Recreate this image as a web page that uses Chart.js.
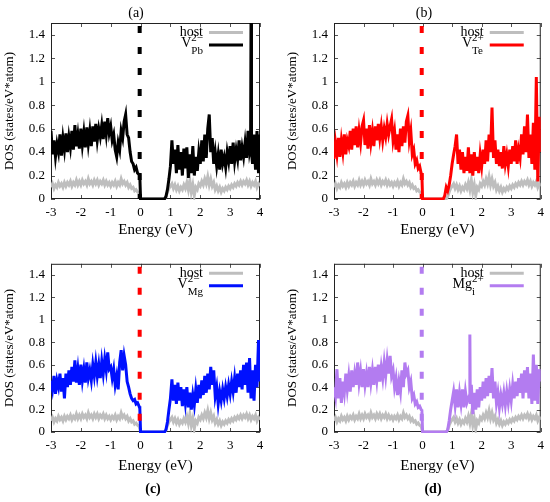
<!DOCTYPE html>
<html>
<head>
<meta charset="utf-8">
<script src="https://cdn.jsdelivr.net/npm/chart.js@4.4.1/dist/chart.umd.min.js"></script>
<style>
  html, body { margin: 0; padding: 0; background: #fff; }
  #wrap { position: relative; width: 550px; height: 502px; }
  canvas { position: absolute; }
</style>
</head>
<body>
<div id="wrap">
  <canvas id="pa" width="275" height="250" style="left:0;top:0"></canvas>
  <canvas id="pb" width="275" height="250" style="left:275px;top:0"></canvas>
  <canvas id="pc" width="275" height="252" style="left:0;top:250px"></canvas>
  <canvas id="pd" width="275" height="252" style="left:275px;top:250px"></canvas>
</div>
<script>
// energy grid: -3 .. 4 eV, 0.05 eV per sample (141 samples)
const E_START = -3;
const E_STEP = 0.05;
const xTicks = [-3, -2, -1, 0, 1, 2, 3, 4];
const yTicks = [0, 0.2, 0.4, 0.6, 0.8, 1, 1.2, 1.4];
const fermiLevel = -0.03;

// pristine host DOS (same curve in every panel)
const dosHost = [
  0.10, 0.13, 0.09, 0.12, 0.10, 0.14, 0.11, 0.13, 0.10, 0.14,   // -3.00
  0.11, 0.14, 0.12, 0.15, 0.11, 0.14, 0.12, 0.16, 0.12, 0.15,   // -2.50
  0.12, 0.16, 0.13, 0.15, 0.12, 0.17, 0.13, 0.15, 0.12, 0.16,   // -2.00
  0.13, 0.16, 0.12, 0.15, 0.13, 0.16, 0.12, 0.15, 0.12, 0.14,   // -1.50
  0.11, 0.14, 0.12, 0.15, 0.11, 0.14, 0.12, 0.17, 0.13, 0.15,   // -1.00
  0.12, 0.14, 0.10, 0.12, 0.09, 0.10, 0.07, 0.08, 0.06, 0.05,   // -0.50
  0, 0, 0, 0, 0, 0, 0, 0, 0, 0,                                 //  0.00
  0, 0, 0, 0, 0, 0, 0, 0.02, 0.06, 0.09,                        //  0.50
  0.11, 0.13, 0.09, 0.12, 0.08, 0.11, 0.07, 0.10, 0.08, 0.12,   //  1.00
  0.09, 0.14, 0.08, 0.16, 0.06, 0.12, 0.03, 0.10, 0.08, 0.13,   //  1.50
  0.11, 0.15, 0.12, 0.17, 0.13, 0.19, 0.12, 0.17, 0.11, 0.14,   //  2.00
  0.08, 0.11, 0.07, 0.10, 0.06, 0.09, 0.07, 0.10, 0.08, 0.11,   //  2.50
  0.09, 0.12, 0.10, 0.13, 0.11, 0.14, 0.12, 0.15, 0.12, 0.15,   //  3.00
  0.13, 0.16, 0.12, 0.15, 0.11, 0.14, 0.12, 0.15, 0.10, 0.13,   //  3.50
  0.11                                                          //  4.00
];

// (a) V_Pb 2-
const dosVPb = [
  0.58, 0.38, 0.50, 0.36, 0.47, 0.40, 0.55, 0.37, 0.52, 0.42,
  0.56, 0.40, 0.53, 0.44, 0.58, 0.42, 0.63, 0.45, 0.55, 0.43,
  0.60, 0.46, 0.57, 0.44, 0.61, 0.47, 0.58, 0.45, 0.62, 0.49,
  0.64, 0.50, 0.60, 0.53, 0.63, 0.51, 0.66, 0.55, 0.69, 0.56,
  0.62, 0.50, 0.55, 0.42, 0.36, 0.48, 0.42, 0.58, 0.52, 0.66,
  0.72, 0.55, 0.52, 0.40, 0.32, 0.30, 0.25, 0.27, 0.22, 0.21,
  0, 0, 0, 0, 0, 0, 0, 0, 0, 0,
  0, 0, 0, 0, 0, 0, 0, 0.02, 0.08, 0.17,
  0.28, 0.50, 0.30, 0.42, 0.22, 0.46, 0.25, 0.40, 0.20, 0.43,
  0.26, 0.44, 0.18, 0.38, 0.22, 0.45, 0.20, 0.36, 0.24, 0.40,
  0.30, 0.50, 0.32, 0.55, 0.35, 0.60, 0.72, 0.40, 0.52, 0.30,
  0.40, 0.28, 0.38, 0.25, 0.42, 0.30, 0.36, 0.27, 0.40, 0.32,
  0.45, 0.30, 0.48, 0.32, 0.42, 0.34, 0.50, 0.33, 0.44, 0.36,
  0.48, 0.35, 0.58, 0.40, 1.60, 0.30, 0.55, 0.25, 0.58, 0.22,
  0.55
];
const extraVPb = [[-0.025, 0.19], [3.685, 0.45], [3.715, 0.40]];

// (b) V_Te 2+
const dosVTe = [
  0.34, 0.48, 0.38, 0.52, 0.36, 0.50, 0.40, 0.55, 0.38, 0.50,
  0.45, 0.58, 0.42, 0.60, 0.46, 0.62, 0.44, 0.58, 0.48, 0.62,
  0.67, 0.46, 0.60, 0.43, 0.63, 0.48, 0.58, 0.45, 0.62, 0.50,
  0.64, 0.52, 0.62, 0.50, 0.60, 0.53, 0.64, 0.55, 0.62, 0.68,
  0.50, 0.58, 0.42, 0.55, 0.40, 0.60, 0.45, 0.62, 0.48, 0.66,
  0.71, 0.50, 0.58, 0.38, 0.42, 0.30, 0.33, 0.26, 0.28, 0.22,
  0, 0, 0, 0, 0, 0, 0, 0, 0, 0,
  0, 0, 0, 0, 0, 0.03, 0.10, 0.07, 0.12, 0.20,
  0.30, 0.38, 0.45, 0.55, 0.30, 0.42, 0.25, 0.40, 0.22, 0.36,
  0.24, 0.44, 0.22, 0.38, 0.20, 0.40, 0.24, 0.36, 0.22, 0.38,
  0.28, 0.42, 0.30, 0.50, 0.32, 0.55, 0.40, 0.78, 0.35, 0.50,
  0.30, 0.42, 0.28, 0.40, 0.26, 0.45, 0.30, 0.38, 0.28, 0.42,
  0.30, 0.45, 0.32, 0.50, 0.30, 0.42, 0.35, 0.55, 0.38, 0.62,
  0.40, 0.72, 0.35, 0.55, 0.30, 0.65, 0.25, 1.04, 0.15, 0.70,
  0.40
];
const extraVTe = [[-0.025, 0.21]];

// (c) V_Mg 2-
const dosVMg = [
  0.46, 0.38, 0.50, 0.34, 0.46, 0.40, 0.52, 0.36, 0.48, 0.30,
  0.52, 0.40, 0.55, 0.42, 0.58, 0.45, 0.64, 0.44, 0.56, 0.42,
  0.60, 0.46, 0.56, 0.44, 0.62, 0.48, 0.55, 0.46, 0.60, 0.50,
  0.62, 0.50, 0.60, 0.48, 0.63, 0.52, 0.65, 0.55, 0.71, 0.56,
  0.58, 0.48, 0.56, 0.42, 0.50, 0.38, 0.62, 0.73, 0.55, 0.68,
  0.60, 0.45, 0.40, 0.34, 0.30, 0.28, 0.29, 0.25, 0.26, 0.23,
  0, 0, 0, 0, 0, 0, 0, 0, 0, 0,
  0, 0, 0, 0, 0, 0, 0, 0.02, 0.09, 0.20,
  0.30, 0.47, 0.28, 0.42, 0.25, 0.44, 0.28, 0.40, 0.23, 0.38,
  0.26, 0.40, 0.22, 0.35, 0.20, 0.33, 0.24, 0.38, 0.26, 0.42,
  0.30, 0.46, 0.33, 0.50, 0.35, 0.52, 0.38, 0.58, 0.42, 0.55,
  0.32, 0.40, 0.25, 0.36, 0.28, 0.38, 0.30, 0.40, 0.32, 0.42,
  0.34, 0.45, 0.36, 0.48, 0.35, 0.52, 0.40, 0.55, 0.38, 0.60,
  0.42, 0.62, 0.35, 0.66, 0.30, 0.55, 0.28, 0.60, 0.40, 0.82,
  0.45
];
const extraVMg = [[-0.025, 0.21]];

// (d) Mg_i 2+
const dosMgi = [
  0.40, 0.32, 0.56, 0.30, 0.48, 0.26, 0.45, 0.35, 0.52, 0.38,
  0.50, 0.36, 0.55, 0.40, 0.52, 0.42, 0.62, 0.44, 0.54, 0.40,
  0.56, 0.42, 0.52, 0.40, 0.58, 0.44, 0.55, 0.42, 0.58, 0.46,
  0.60, 0.45, 0.58, 0.48, 0.62, 0.50, 0.64, 0.52, 0.68, 0.50,
  0.55, 0.40, 0.48, 0.33, 0.45, 0.36, 0.55, 0.40, 0.62, 0.52,
  0.55, 0.40, 0.45, 0.30, 0.33, 0.25, 0.27, 0.22, 0.23, 0.20,
  0, 0, 0, 0, 0, 0, 0, 0, 0, 0,
  0, 0, 0, 0, 0, 0, 0, 0.02, 0.10, 0.20,
  0.28, 0.36, 0.24, 0.38, 0.22, 0.35, 0.25, 0.38, 0.22, 0.36,
  0.26, 0.30, 0.87, 0.42, 0.16, 0.35, 0.20, 0.38, 0.22, 0.40,
  0.28, 0.45, 0.30, 0.48, 0.32, 0.50, 0.35, 0.57, 0.30, 0.45,
  0.26, 0.35, 0.22, 0.33, 0.25, 0.35, 0.24, 0.36, 0.26, 0.38,
  0.28, 0.42, 0.30, 0.45, 0.32, 0.48, 0.35, 0.52, 0.30, 0.55,
  0.35, 0.58, 0.30, 0.52, 0.25, 0.69, 0.28, 0.60, 0.25, 0.56,
  0.45
];
const extraMgi = [[-0.025, 0.19], [1.585, 0.28], [1.615, 0.25]];

const HOST_COLOR = '#bebebe';
const SERIF = '"Liberation Serif", "DejaVu Serif", serif';
Chart.defaults.font.family = SERIF;
Chart.defaults.color = '#000';

function toPoints(values, extra) {
  const pts = values.map((v, i) => ({ x: +(E_START + i * E_STEP).toFixed(3), y: v }));
  extra.forEach(([x, y]) => pts.push({ x, y }));
  return pts.sort((p, q) => p.x - q.x);
}

// gnuplot style box with inward ticks
const framePlugin = {
  id: 'frame',
  beforeDatasetsDraw(chart) {
    const { ctx, chartArea: a, scales: { x, y } } = chart;
    ctx.save();
    ctx.strokeStyle = '#555';
    ctx.lineWidth = 1;
    ctx.beginPath();
    x.ticks.forEach(t => {
      const px = Math.round(x.getPixelForValue(t.value)) + 0.5;
      ctx.moveTo(px, a.bottom); ctx.lineTo(px, a.bottom - 4);
      ctx.moveTo(px, a.top); ctx.lineTo(px, a.top + 4);
    });
    y.ticks.forEach(t => {
      const py = Math.round(y.getPixelForValue(t.value)) + 0.5;
      ctx.moveTo(a.left, py); ctx.lineTo(a.left + 4, py);
      ctx.moveTo(a.right, py); ctx.lineTo(a.right - 4, py);
    });
    ctx.stroke();
    ctx.strokeStyle = '#222';
    ctx.strokeRect(a.left + 0.5, a.top + 0.5, a.width - 1, a.height - 1);
    ctx.restore();
  }
};

// panel tag and legend with super/subscripts
const labelPlugin = {
  id: 'dosLabels',
  afterDraw(chart, args, opts) {
    const { ctx, chartArea: a } = chart;
    ctx.save();
    ctx.fillStyle = '#000';
    ctx.textBaseline = 'middle';
    ctx.textAlign = 'center';
    ctx.font = (opts.tagBold ? 'bold ' : '') + '14px ' + SERIF;
    ctx.fillText(opts.tag, opts.tagX, opts.tagY);

    const items = chart.data.datasets.filter(d => d.legend);
    items.sort((p, q) => p.legend.row - q.legend.row);
    items.forEach((d, i) => {
      const yy = a.top + 9.5 + i * 12.5;
      const lineR = a.right - 17, lineL = lineR - 34;
      ctx.strokeStyle = d.borderColor;
      ctx.lineWidth = 3;
      ctx.beginPath(); ctx.moveTo(lineL, yy); ctx.lineTo(lineR, yy); ctx.stroke();

      const L = d.legend;
      const textR = lineL - 6;
      ctx.textAlign = 'left';
      ctx.font = '14px ' + SERIF;
      const wBase = ctx.measureText(L.base).width;
      ctx.font = '11px ' + SERIF;
      const wSmall = Math.max(L.sup ? ctx.measureText(L.sup).width : 0, L.sub ? ctx.measureText(L.sub).width : 0);
      const x0 = textR - wBase - wSmall;
      const yb = L.sup ? yy - 1.5 : yy;
      ctx.font = '14px ' + SERIF;
      ctx.fillText(L.base, x0, yb);
      ctx.font = '11px ' + SERIF;
      if (L.sup) ctx.fillText(L.sup, x0 + wBase, yy - 7);
      if (L.sub) ctx.fillText(L.sub, x0 + wBase, yy + 6);
    });
    ctx.restore();
  }
};

const panels = [
  { id: 'pa', tag: '(a)', tagBold: false, tagX: 136, tagY: 13,
    values: dosVPb, extra: extraVPb, color: '#000000', fermiColor: '#000000',
    legend: { base: 'V', sup: '2\u2212', sub: 'Pb' },
    pad: { left: 0, top: 23, right: 15, bottom: 0 }, yWidth: 51, xHeight: 51, yTitlePad: 2, xTitlePad: 11 },
  { id: 'pb', tag: '(b)', tagBold: false, tagX: 149, tagY: 13,
    values: dosVTe, extra: extraVTe, color: '#ff0000', fermiColor: '#ff0000',
    legend: { base: 'V', sup: '2+', sub: 'Te' },
    pad: { left: 0, top: 23, right: 8, bottom: 0 }, yWidth: 59, xHeight: 51, yTitlePad: 10, xTitlePad: 11 },
  { id: 'pc', tag: '(c)', tagBold: true, tagX: 153, tagY: 239,
    values: dosVMg, extra: extraVMg, color: '#0010ff', fermiColor: '#ff0000',
    legend: { base: 'V', sup: '2\u2212', sub: 'Mg' },
    pad: { left: 0, top: 7, right: 15, bottom: 0 }, yWidth: 51, xHeight: 70, yTitlePad: 2, xTitlePad: 27 },
  { id: 'pd', tag: '(d)', tagBold: true, tagX: 158, tagY: 239,
    values: dosMgi, extra: extraMgi, color: '#b37cf0', fermiColor: '#b37cf0',
    legend: { base: 'Mg', sup: '2+', sub: 'i' },
    pad: { left: 0, top: 7, right: 8, bottom: 0 }, yWidth: 59, xHeight: 70, yTitlePad: 10, xTitlePad: 27 }
];

panels.forEach(p => {
  new Chart(document.getElementById(p.id).getContext('2d'), {
    type: 'line',
    data: {
      datasets: [
        { // Fermi level marker
          data: [{ x: fermiLevel, y: 1.5 }, { x: fermiLevel, y: 0 }],
          borderColor: p.fermiColor, borderWidth: 4,
          borderDash: [7, 14], borderDashOffset: 18, borderCapStyle: 'butt'
        },
        {
          data: toPoints(p.values, p.extra),
          borderColor: p.color, borderWidth: 3,
          legend: Object.assign({ row: 1 }, p.legend),
          clip: { left: 0, top: 0, right: 0, bottom: 1 }
        },
        {
          data: toPoints(dosHost, []),
          borderColor: HOST_COLOR, borderWidth: 3,
          legend: { row: 0, base: 'host' },
          clip: { left: 0, top: 0, right: 0, bottom: 1 }
        }
      ]
    },
    options: {
      responsive: false,
      animation: false,
      events: [],
      layout: { padding: p.pad },
      elements: { point: { radius: 0 }, line: { tension: 0 } },
      scales: {
        x: {
          type: 'linear', min: -3, max: 4,
          afterBuildTicks: s => { s.ticks = xTicks.map(v => ({ value: v })); },
          afterFit: s => { s.height = p.xHeight; },
          grid: { display: false, drawTicks: false },
          border: { display: false },
          ticks: { padding: 6, font: { size: 13 }, callback: v => String(v), maxRotation: 0 },
          title: { display: true, text: 'Energy (eV)', font: { size: 15 }, padding: { top: 0, bottom: p.xTitlePad } }
        },
        y: {
          type: 'linear', min: 0, max: 1.5,
          afterBuildTicks: s => { s.ticks = yTicks.map(v => ({ value: v })); },
          afterFit: s => { s.width = p.yWidth; },
          grid: { display: false, drawTicks: false },
          border: { display: false },
          ticks: { padding: 6, font: { size: 13 }, callback: v => String(+v.toFixed(1)) },
          title: { display: true, text: 'DOS (states/eV*atom)', font: { size: 13 }, padding: { top: p.yTitlePad, bottom: 0 } }
        }
      },
      plugins: {
        legend: { display: false },
        tooltip: { enabled: false },
        dosLabels: { tag: p.tag, tagBold: p.tagBold, tagX: p.tagX, tagY: p.tagY }
      }
    },
    plugins: [framePlugin, labelPlugin]
  });
});
</script>
</body>
</html>
